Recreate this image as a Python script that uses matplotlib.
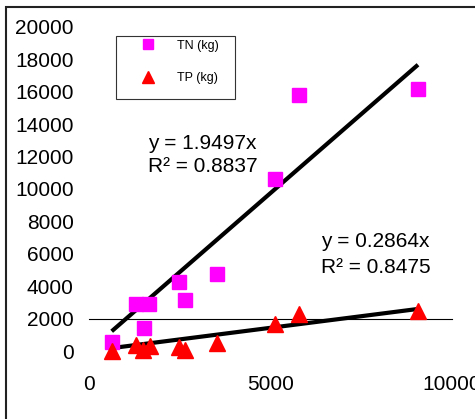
import matplotlib
matplotlib.use("Agg")
import matplotlib.pyplot as plt
import numpy as np
from matplotlib.patches import Rectangle
from matplotlib.lines import Line2D

plt.rcParams["font.family"] = ["Liberation Sans", "DejaVu Sans"]

# flow / load values
tn_x = [625, 1286, 1653, 1507, 2488, 2653, 3526, 5115, 5777, 9063]
tn_y = [574, 2900, 2900, 1420, 4240, 3150, 4750, 10640, 15780, 16150]

tp_x = [625, 1286, 1496, 1680, 2480, 2653, 3526, 5115, 5777, 9063]
tp_y = [0, 370, 60, 310, 265, 60, 510, 1670, 2280, 2490]

tn_slope, tn_r2 = 1.9497, 0.8837
tp_slope, tp_r2 = 0.2864, 0.8475

W, H = 475, 419
fig = plt.figure(figsize=(W / 100, H / 100), dpi=100)
ax = fig.add_axes([89 / W, 68 / H, (452 - 89) / W, (392 - 68) / H])

# stray horizontal rule at 2000, as in the original sheet
ax.plot([0, 10000], [2000, 2000], color="black", lw=0.8, clip_on=False)

# trendlines through the origin
xs = np.array([min(tn_x), max(tn_x)])
ax.plot(xs, tn_slope * xs, color="black", lw=3, solid_capstyle="butt", clip_on=False)
ax.plot(xs, tp_slope * xs, color="black", lw=3, solid_capstyle="butt", clip_on=False)

ax.plot(tn_x, tn_y, "s", color="#ff00ff", ms=10, mec="#ff00ff", clip_on=False, zorder=3)
ax.plot(tp_x, tp_y, "^", color="red", ms=11, mec="red", clip_on=False, zorder=3)

ax.text(3130, 12780, f"y = {tn_slope}x", fontsize=15, ha="center", va="center")
ax.text(3130, 11400, f"R\u00b2 = {tn_r2}", fontsize=15, ha="center", va="center")
ax.text(7890, 6750, f"y = {tp_slope}x", fontsize=15, ha="center", va="center")
ax.text(7890, 5150, f"R\u00b2 = {tp_r2}", fontsize=15, ha="center", va="center")

ax.set_xlim(0, 10000)
ax.set_ylim(0, 20000)
ax.set_xticks([0, 5000, 10000])
ax.set_yticks(range(0, 20001, 2000))
ax.tick_params(axis="both", length=0, labelsize=15)
ax.tick_params(axis="y", pad=11)
ax.tick_params(axis="x", pad=17)
for s in ax.spines.values():
    s.set_visible(False)

handles = [
    Line2D([], [], marker="s", ls="none", color="#ff00ff", ms=7.5),
    Line2D([], [], marker="^", ls="none", color="red", ms=8),
]
leg = fig.legend(handles, ["TN (kg)", "TP (kg)"], loc="upper left",
                 bbox_to_anchor=(116 / W, 1 - 36 / H),
                 bbox_transform=fig.transFigure,
                 fontsize=9, frameon=False, borderpad=0.3,
                 labelspacing=1.62, handlelength=4.5, handletextpad=0.05,
                 borderaxespad=0)
fig.add_artist(Rectangle((116 / W, 1 - 99 / H), 119 / W, 63 / H, transform=fig.transFigure,
                         fill=False, edgecolor="#333333", lw=0.8))

# outer chart frame (only left and top edges fall inside the crop)
fig.add_artist(Rectangle((6 / W, -0.1), 1.0, 1.1 - 7 / H, transform=fig.transFigure,
                         fill=False, edgecolor="#222222", lw=1.5))

fig.savefig("out.png", dpi=100)
